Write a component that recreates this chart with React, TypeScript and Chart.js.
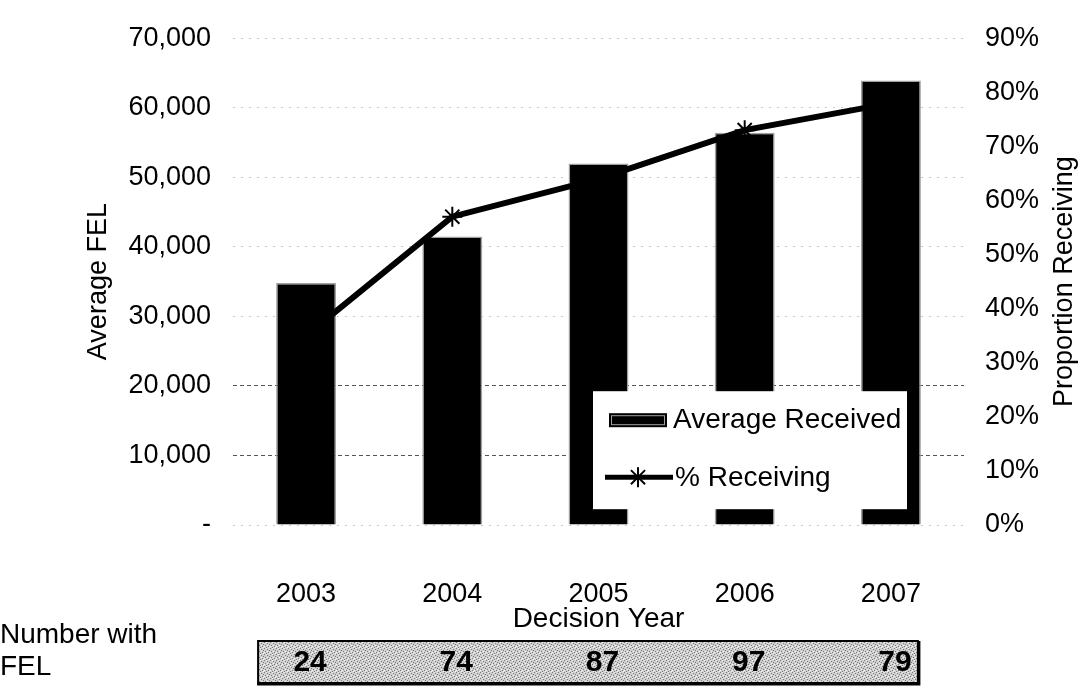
import React, { useEffect, useRef } from 'react';
import { Chart, registerables } from 'chart.js';

Chart.register(...registerables);

const years = ['2003', '2004', '2005', '2006', '2007'];
const averageReceived = [34800, 41500, 52000, 56400, 63900];
const percentReceiving = [35, 57, 64, 73, 78];
const numberWithFEL = [24, 74, 87, 97, 79];
const leftAxisMax = 70000;
const leftAxisStep = 10000;
const rightAxisMax = 90;
const rightAxisStep = 10;
const darkGridValues = [10000, 20000];

const FONT = '"Liberation Sans", Arial, Helvetica, sans-serif';

function drawStar(ctx: CanvasRenderingContext2D, cx: number, cy: number, r: number) {
  ctx.beginPath();
  ctx.moveTo(cx, cy - r);
  ctx.lineTo(cx, cy + r);
  ctx.moveTo(cx - r, cy);
  ctx.lineTo(cx + r, cy);
  const d = r * Math.SQRT1_2;
  ctx.moveTo(cx - d, cy - d);
  ctx.lineTo(cx + d, cy + d);
  ctx.moveTo(cx - d, cy + d);
  ctx.lineTo(cx + d, cy - d);
  ctx.stroke();
}

function makeTexture(ctx: CanvasRenderingContext2D): CanvasPattern | string {
  const c = document.createElement('canvas');
  c.width = 6;
  c.height = 6;
  const p = c.getContext('2d');
  if (!p) return '#bdbdbd';
  p.fillStyle = '#cfcfcf';
  p.fillRect(0, 0, 6, 6);
  p.fillStyle = '#7a7a7a';
  const dots = [[0, 0], [3, 1], [1, 3], [4, 4], [5, 2], [2, 5]];
  dots.forEach(([a, b]) => p.fillRect(a, b, 1, 1));
  p.fillStyle = '#f4f4f4';
  const light = [[2, 0], [5, 5], [0, 4], [3, 3]];
  light.forEach(([a, b]) => p.fillRect(a, b, 1, 1));
  return ctx.createPattern(c, 'repeat') || '#bdbdbd';
}

const extrasPlugin = {
  id: 'extras',
  afterDraw(chart: any) {
    const { ctx, chartArea: ca, scales } = chart;
    const x = scales.x;
    const y1 = scales.y1;
    ctx.save();

    // Right axis title (reads bottom to top)
    ctx.save();
    ctx.translate(y1.right - 24, (ca.top + ca.bottom) / 2);
    ctx.rotate(-Math.PI / 2);
    ctx.font = `27px ${FONT}`;
    ctx.fillStyle = '#000';
    ctx.textAlign = 'center';
    ctx.textBaseline = 'middle';
    ctx.fillText('Proportion Receiving', 0, 0);
    ctx.restore();

    // Legend box
    const lx = ca.left + 360;
    const ly = ca.top + 353;
    ctx.fillStyle = '#fff';
    ctx.fillRect(lx, ly, 314, 118);
    ctx.fillStyle = '#000';
    ctx.fillRect(lx + 16, ly + 22, 58, 14);
    ctx.strokeStyle = '#a0a0a0';
    ctx.lineWidth = 1;
    ctx.strokeRect(lx + 18.5, ly + 24.5, 53, 9);
    ctx.font = `28px ${FONT}`;
    ctx.textAlign = 'left';
    ctx.textBaseline = 'middle';
    ctx.fillStyle = '#000';
    ctx.fillText(chart.data.datasets[0].label, lx + 80, ly + 29);
    ctx.strokeStyle = '#000';
    ctx.lineWidth = 5;
    ctx.beginPath();
    ctx.moveTo(lx + 12, ly + 86);
    ctx.lineTo(lx + 80, ly + 86);
    ctx.stroke();
    ctx.lineWidth = 2;
    drawStar(ctx, lx + 45, ly + 86, 10);
    ctx.fillText(chart.data.datasets[1].label, lx + 82, ly + 87);

    // Number with FEL table
    ctx.font = `28px ${FONT}`;
    ctx.textAlign = 'left';
    ctx.fillStyle = '#000';
    ctx.fillText('Number with', 0, 635);
    ctx.fillText('FEL', 0, 667);

    const bx0 = x.getPixelForValue(0) - 48;
    const bx1 = x.getPixelForValue(numberWithFEL.length - 1) + 27;
    const by0 = 641;
    const by1 = 683;
    ctx.fillStyle = makeTexture(ctx);
    ctx.fillRect(bx0, by0, bx1 - bx0, by1 - by0);
    ctx.strokeStyle = '#000';
    ctx.lineWidth = 2;
    ctx.strokeRect(bx0, by0, bx1 - bx0, by1 - by0);
    ctx.lineWidth = 3;
    ctx.beginPath();
    ctx.moveTo(bx0 - 1, by1 + 1);
    ctx.lineTo(bx1 + 1, by1 + 1);
    ctx.lineTo(bx1 + 1, by0);
    ctx.stroke();

    ctx.font = `bold 30px ${FONT}`;
    ctx.textAlign = 'center';
    ctx.fillStyle = '#000';
    numberWithFEL.forEach((n, i) => {
      ctx.fillText(String(n), x.getPixelForValue(i) + 4, 663);
    });

    ctx.restore();
  },
};

export default function App() {
  const ref = useRef<HTMLCanvasElement>(null);

  useEffect(() => {
    document.body.style.margin = '0';
    const canvas = ref.current;
    if (!canvas) return;
    const tickFont = { size: 27, family: FONT };
    const chart = new Chart(canvas, {
      type: 'bar',
      data: {
        labels: years,
        datasets: [
          {
            type: 'bar',
            label: 'Average Received',
            data: averageReceived,
            yAxisID: 'y',
            backgroundColor: '#000',
            borderColor: '#a0a0a0',
            borderWidth: 1.5,
            barPercentage: 0.41,
            categoryPercentage: 1,
            order: 2,
          },
          {
            type: 'line',
            label: '% Receiving',
            data: percentReceiving,
            yAxisID: 'y1',
            borderColor: '#000',
            backgroundColor: '#000',
            borderWidth: 6,
            pointStyle: 'star',
            pointRadius: 10,
            pointBorderWidth: 2,
            pointBorderColor: '#000',
            tension: 0,
            order: 1,
          },
        ] as any,
      },
      options: {
        animation: false,
        responsive: false,
        devicePixelRatio: 1,
        layout: { padding: { top: 22, left: 0, right: 0, bottom: 52 } },
        plugins: {
          legend: { display: false },
          tooltip: { enabled: false },
        },
        scales: {
          x: {
            grid: { display: false },
            border: { display: false },
            ticks: { font: tickFont, color: '#000', padding: 45, maxRotation: 0 },
            title: {
              display: true,
              text: 'Decision Year',
              font: { size: 28, family: FONT },
              color: '#000',
              padding: { top: 0, bottom: 0 },
            },
            afterFit: (s: any) => {
              s.height = 111;
            },
          },
          y: {
            position: 'left',
            min: 0,
            max: leftAxisMax,
            ticks: {
              stepSize: leftAxisStep,
              font: tickFont,
              color: '#000',
              padding: 22,
              callback: (v: any) => (Number(v) === 0 ? '-' : Number(v).toLocaleString('en-US')),
            },
            grid: {
              drawTicks: false,
              lineWidth: 1,
              color: (c: any) => (darkGridValues.includes(c.tick?.value) ? '#555' : '#c8c8c8'),
            },
            border: {
              display: false,
              dash: (c: any) => (darkGridValues.includes(c.tick?.value) ? [4, 3] : [2, 6]),
            },
            title: {
              display: true,
              text: 'Average FEL',
              font: tickFont,
              color: '#000',
              padding: { top: 82, bottom: 0 },
            },
            afterFit: (s: any) => {
              s.width = 233;
            },
          },
          y1: {
            position: 'right',
            min: 0,
            max: rightAxisMax,
            ticks: {
              stepSize: rightAxisStep,
              font: tickFont,
              color: '#000',
              padding: 21,
              callback: (v: any) => `${v}%`,
            },
            grid: { drawOnChartArea: false, drawTicks: false },
            border: { display: false },
            afterFit: (s: any) => {
              s.width = 125;
            },
          },
        } as any,
      },
      plugins: [extrasPlugin],
    });
    return () => chart.destroy();
  }, []);

  return (
    <div style={{ position: 'relative', width: 1089, height: 688, background: '#fff' }}>
      <canvas ref={ref} width={1089} height={688} style={{ display: 'block' }} />
    </div>
  );
}
